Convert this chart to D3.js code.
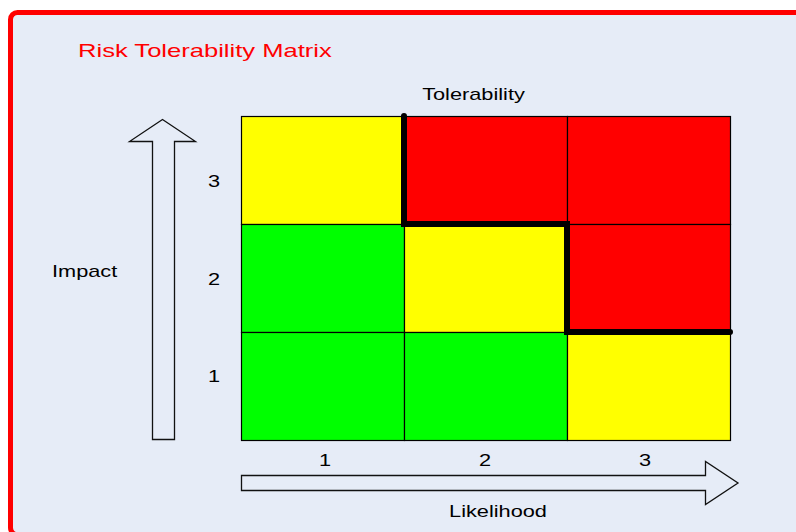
<!DOCTYPE html>
<html>
<head>
<meta charset="utf-8">
<script src="https://cdn.jsdelivr.net/npm/d3@7"></script>
<style>
  html, body { margin: 0; padding: 0; background: #fff; }
  text { font-family: "Liberation Sans", Arial, sans-serif; }
</style>
</head>
<body>
<div id="chart"></div>
<script>
// matrix data
const likelihood = [1, 2, 3];
const impact = [3, 2, 1];
// rating per impact row (top to bottom), per likelihood column
const ratings = [
  ['medium', 'high', 'high'],
  ['low', 'medium', 'high'],
  ['low', 'low', 'medium']
];
const levels = ['low', 'medium', 'high'];
const levelColors = ['#00ff00', '#ffff00', '#ff0000'];

const width = 796;
const height = 532;
const stretch = 1.36; // text in the picture is wide

const svg = d3.select('#chart').append('svg')
  .attr('width', width)
  .attr('height', height);

/* frame */
svg.append('rect')
  .attr('x', 10.5).attr('y', 12.5)
  .attr('width', 820).attr('height', 522.2)
  .attr('rx', 7)
  .attr('fill', '#e6ecf7')
  .attr('stroke', '#ff0000')
  .attr('stroke-width', 5);

/* scales */
const x = d3.scaleBand().domain(likelihood).range([241, 730]);
const y = d3.scaleBand().domain(impact).range([116, 440]);
const color = d3.scaleOrdinal().domain(levels).range(levelColors);

const xLabel = d3.scalePoint().domain(likelihood).range([325, 645]);
const yLabel = d3.scalePoint().domain(impact).range([187, 382]);

/* cells */
const cells = [];
impact.forEach((im, r) => {
  likelihood.forEach((li, c) => {
    cells.push({ impact: im, likelihood: li, level: ratings[r][c] });
  });
});

svg.append('g')
  .attr('class', 'cells')
  .selectAll('rect')
  .data(cells).enter()
  .append('rect')
  .attr('x', d => x(d.likelihood) + 0.5)
  .attr('y', d => y(d.impact) + 0.5)
  .attr('width', x.bandwidth())
  .attr('height', y.bandwidth())
  .attr('fill', d => color(d.level))
  .attr('stroke', '#000')
  .attr('stroke-width', 1.2);

/* tolerability line: edge of the red region */
const pts = [];
likelihood.forEach((li, c) => {
  const red = impact.filter((im, r) => ratings[r][c] === 'high');
  if (!red.length) { return; }
  const lowest = d3.min(red);
  const yb = y(lowest) + y.bandwidth();
  if (!pts.length) { pts.push([x(li), y.range()[0]]); }
  pts.push([x(li), yb]);
  pts.push([x(li) + x.bandwidth(), yb]);
});

svg.append('path')
  .attr('d', d3.line()(pts))
  .attr('fill', 'none')
  .attr('stroke', '#000')
  .attr('stroke-width', 6)
  .attr('stroke-linecap', 'round')
  .attr('stroke-linejoin', 'miter');

/* arrows */
const arrowStyle = sel => sel
  .attr('fill', '#e6ecf7')
  .attr('stroke', '#111')
  .attr('stroke-width', 1.3);

svg.append('path')
  .attr('d', 'M152.5,439.5 L152.5,141.5 L129.5,141.5 L162.5,119.5 L195.5,141.5 L174.5,141.5 L174.5,439.5 Z')
  .call(arrowStyle);

svg.append('path')
  .attr('d', 'M241.5,475.5 L705.5,475.5 L705.5,461.5 L738,483 L705.5,504.5 L705.5,490.5 L241.5,490.5 Z')
  .call(arrowStyle);

/* text */
function addText(tx, ty, str, size, anchor, fill) {
  svg.append('text')
    .attr('transform', `translate(${tx},${ty}) scale(${stretch},1)`)
    .attr('text-anchor', anchor)
    .attr('font-size', size)
    .attr('fill', fill || '#000')
    .text(str);
}

addText(78, 56.5, 'Risk Tolerability Matrix', 18.8, 'start', '#ff0000');
addText(473.5, 100, 'Tolerability', 16, 'middle');
addText(52, 277, 'Impact', 16, 'start');
addText(498, 517, 'Likelihood', 16, 'middle');

impact.forEach(d => addText(214, yLabel(d), d, 16, 'middle'));
likelihood.forEach(d => addText(xLabel(d), 466, d, 16, 'middle'));
</script>
</body>
</html>
